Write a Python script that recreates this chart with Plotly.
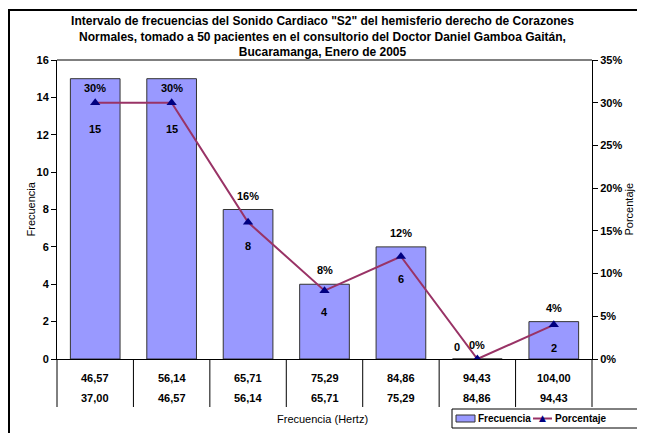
import plotly.graph_objects as go

# datos
limite_sup = ['46,57', '56,14', '65,71', '75,29', '84,86', '94,43', '104,00']
limite_inf = ['37,00', '46,57', '56,14', '65,71', '75,29', '84,86', '94,43']
frecuencia = [15, 15, 8, 4, 6, 0, 2]
porcentaje = [0.30, 0.30, 0.16, 0.08, 0.12, 0.00, 0.04]
series = ['Frecuencia', 'Porcentaje']

cats = list(range(len(frecuencia)))

# estilos
color_barra = '#9999FF'
color_borde = '#333333'
color_linea = '#993366'
color_marker = '#000080'
fuente = 'Liberation Sans, Arial, sans-serif'

# el body de la pagina tiene 8px de margen -> figura de 637x425
OFF = 8
W, H = 645 - OFF, 433 - OFF
# area del grafico en px de ventana: x 57..592, y 60..359
X0, X1, Y0, Y1 = 57, 592, 60, 359
L, R, T, B = X0 - OFF, W - (X1 - OFF), Y0 - OFF, H - (Y1 - OFF)
pw, ph = X1 - X0, Y1 - Y0

def px(x):
    return (x - X0) / pw

def py(y):
    return (Y1 - y) / ph

def f11(bold=True, size=11):
    return dict(family=fuente, size=size, color='black', weight='bold' if bold else 'normal')

fig = go.Figure()
fig.add_trace(go.Bar(
    x=cats, y=frecuencia, name=series[0], width=0.65,
    marker=dict(color=color_barra, line=dict(color=color_borde, width=1)),
))
fig.add_trace(go.Scatter(
    x=cats, y=porcentaje, name=series[1], yaxis='y2', mode='lines+markers',
    line=dict(color=color_linea, width=2),
    marker=dict(symbol='triangle-up', size=9, color=color_marker),
))

anns = []
# etiquetas de porcentaje (encima de la barra)
pct_shift = [-9, -9, 14, 14, 14, 14, 14]
for i, (f, p) in enumerate(zip(frecuencia, porcentaje)):
    anns.append(dict(x=i, y=f, xref='x', yref='y', text='%d%%' % round(p * 100),
                     showarrow=False, yshift=pct_shift[i], yanchor='middle', font=f11()))
# etiquetas de frecuencia (debajo del marcador)
cnt_yshift = [-26, -26, -24, -21, -23, 12, -23]
cnt_xshift = [0, 0, 0, 0, 0, -20, 0]
for i, (f, p) in enumerate(zip(frecuencia, porcentaje)):
    anns.append(dict(x=i, y=p, xref='x', yref='y2', text='%d' % f,
                     showarrow=False, yshift=cnt_yshift[i], xshift=cnt_xshift[i],
                     yanchor='middle', font=f11()))
# etiquetas de categoria en dos filas
for i, (s, inf) in enumerate(zip(limite_sup, limite_inf)):
    anns.append(dict(x=i, y=py(378), xref='x', yref='paper', text=s,
                     showarrow=False, yanchor='middle', font=f11()))
    anns.append(dict(x=i, y=py(398), xref='x', yref='paper', text=inf,
                     showarrow=False, yanchor='middle', font=f11()))
# titulos de ejes
anns.append(dict(x=px(22), y=0.5, xref='paper', yref='paper', text='Frecuencia',
                 textangle=-90, showarrow=False, font=f11(False)))
anns.append(dict(x=px(636), y=0.5, xref='paper', yref='paper', text='Porcentaje',
                 textangle=-90, showarrow=False, font=f11(False)))
anns.append(dict(x=px(322), y=py(419), xref='paper', yref='paper', text='Frecuencia (Hertz)',
                 showarrow=False, yanchor='middle', font=f11(False)))

shapes = []
n = len(cats)
for i in range(n + 1):
    shapes.append(dict(type='line', xref='paper', yref='paper', x0=i / n, x1=i / n,
                       y0=0, y1=py(407), line=dict(color='black', width=1)))
# marco exterior
shapes.append(dict(type='rect', xref='paper', yref='paper', x0=px(9), x1=px(660),
                   y0=py(450), y1=py(10), line=dict(color='black', width=2)))
# borde superior del area
shapes.append(dict(type='line', xref='paper', yref='paper', x0=0, x1=1, y0=1, y1=1,
                   line=dict(color='black', width=1)))

# leyenda (recuadro dibujado a mano, como en Excel)
shapes.append(dict(type='rect', xref='paper', yref='paper', x0=px(452), x1=px(638),
                   y0=py(428), y1=py(409), line=dict(color='black', width=1),
                   fillcolor='white'))
shapes.append(dict(type='rect', xref='paper', yref='paper', x0=px(456), x1=px(475),
                   y0=py(422), y1=py(415), line=dict(color=color_borde, width=1),
                   fillcolor=color_barra))
shapes.append(dict(type='line', xref='paper', yref='paper', x0=px(533), x1=px(552),
                   y0=py(418.5), y1=py(418.5), line=dict(color=color_linea, width=2)))
anns.append(dict(x=px(476), y=py(418.5), xref='paper', yref='paper', text=series[0],
                 xanchor='left', yanchor='middle', showarrow=False, font=f11(size=10)))
anns.append(dict(x=px(553), y=py(418.5), xref='paper', yref='paper', text=series[1],
                 xanchor='left', yanchor='middle', showarrow=False, font=f11(size=10)))
anns.append(dict(x=px(542.5), y=py(418), xref='paper', yref='paper', text='▲',
                 xanchor='center', yanchor='middle', showarrow=False,
                 font=dict(family='DejaVu Sans', size=9, color=color_marker)))

fig.update_layout(
    width=W, height=H,
    margin=dict(l=L, r=R, t=T, b=B, autoexpand=False),
    paper_bgcolor='white', plot_bgcolor='white',
    title=dict(text='<b>Intervalo de frecuencias del Sonido Cardiaco "S2" del hemisferio derecho de Corazones<br>'
                    'Normales, tomado a 50 pacientes en el consultorio del Doctor Daniel Gamboa Gaitán,<br>'
                    'Bucaramanga, Enero de 2005</b>',
               x=(322.5 - OFF) / W, xanchor='center', y=1 - 17 / H, yanchor='top',
               font=dict(family=fuente, size=12, color='black')),
    xaxis=dict(range=[-0.5, n - 0.5], showticklabels=False, ticks='', showgrid=False,
               zeroline=False, showline=True, linecolor='black', linewidth=1),
    yaxis=dict(range=[0, 16], dtick=2, ticks='outside', ticklen=5, tickcolor='black',
               showgrid=False, zeroline=False, showline=True, linecolor='black', linewidth=1,
               tickfont=f11()),
    yaxis2=dict(range=[0, 0.35], dtick=0.05, tickformat='.0%', overlaying='y', side='right',
                ticks='outside', ticklen=5, tickcolor='black', showgrid=False, zeroline=False,
                showline=True, linecolor='black', linewidth=1, tickfont=f11()),
    annotations=anns, shapes=shapes, showlegend=False,
)

fig.write_html("out.html")
